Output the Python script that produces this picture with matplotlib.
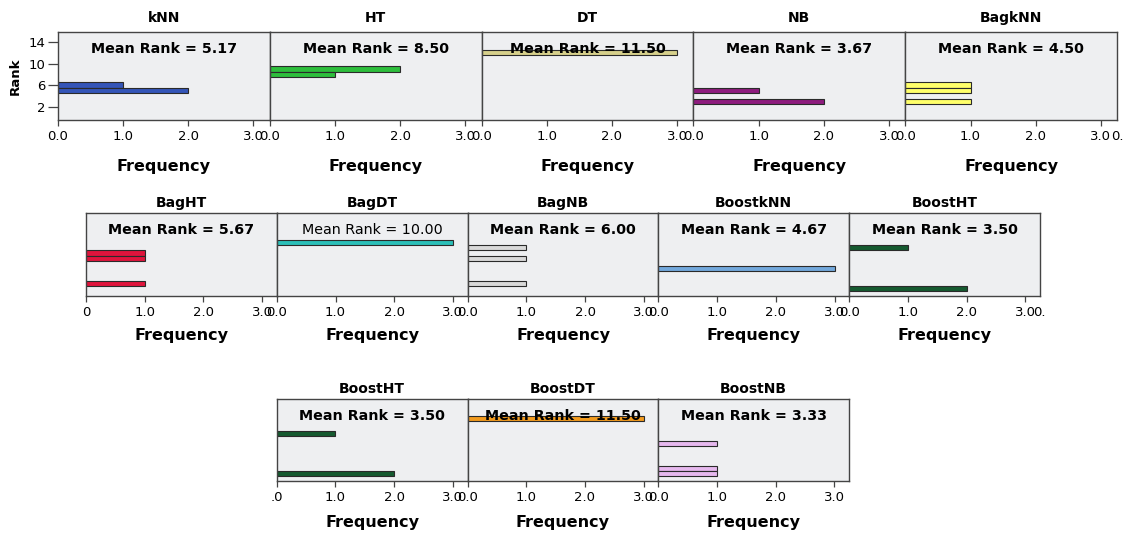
import matplotlib.pyplot as plt

# frequency of each rank per model (bars sit at integer ranks)
panel_names = ["kNN", "HT", "DT", "NB", "BagkNN",
               "BagHT", "BagDT", "BagNB", "BoostkNN", "BoostHT",
               "BoostHT", "BoostDT", "BoostNB"]
bar_ranks = [[6, 5], [9, 8], [12], [5, 3], [6, 5, 3],
             [8, 7, 2], [10], [9, 7, 2], [5], [9, 1],
             [9, 1], [12], [7, 2, 1]]
bar_freqs = [[1, 2], [2, 1], [3], [1, 2], [1, 1, 1],
             [1, 1, 1], [3], [1, 1, 1], [3], [1, 2],
             [1, 2], [3], [1, 1, 1]]
mean_ranks = ["5.17", "8.50", "11.50", "3.67", "4.50",
              "5.67", "10.00", "6.00", "4.67", "3.50",
              "3.50", "11.50", "3.33"]
bar_colors = ["#3455b8", "#2dbe3c", "#d6d08b", "#8e1c7e", "#ffff6a",
              "#e0143c", "#2abfb8", "#d9d9d9", "#72a8dc", "#155a30",
              "#155a30", "#f29b1e", "#e6b8ee"]
freq_ticks = [0, 1, 2, 3]
freq_labels = ["0.0", "1.0", "2.0", "3.0"]
rank_ticks = [2, 6, 10, 14]

W, H = 1124, 537
fig = plt.figure(figsize=(W / 100, H / 100), dpi=100)

# rows: (first panel index, left px, panel width px, top px, bottom px, count, xlabel pad)
rows = [(0, 57.7, 211.9, 32, 120, 5, 12),
        (5, 86.0, 190.8, 213, 296, 5, 7),
        (10, 276.7, 190.8, 399, 481, 3, 8)]

for start, left, width, top, bottom, n, lpad in rows:
    for j in range(n):
        i = start + j
        x0 = left + j * width
        ax = fig.add_axes([x0 / W, 1 - bottom / H, width / W, (bottom - top) / H])
        ax.set_facecolor("#eeeff1")
        ax.barh(bar_ranks[i], bar_freqs[i], height=1.0, color=bar_colors[i],
                edgecolor="#2a2a2a", linewidth=0.8, zorder=2)
        ax.set_xlim(0, 3.25)
        ax.set_ylim(-0.45, 15.85)
        for s in ax.spines.values():
            s.set_color("#444444")
            s.set_linewidth(1.0)

        labels = list(freq_labels)
        if i == 5:
            labels[0] = "0"
        if i == 10:
            labels[0] = ".0"
        ax.set_xticks(freq_ticks)
        ax.set_xticklabels(labels)
        ax.tick_params(axis="x", direction="out", length=4, width=0.9,
                       color="#444444", labelsize=9.5, pad=3)
        ax.set_xlabel("Frequency", fontsize=11.5, fontweight="bold", labelpad=lpad)

        if i == 0:
            ax.set_yticks(rank_ticks)
            ax.tick_params(axis="y", direction="out", length=7, width=0.9,
                           color="#444444", labelsize=9.5, pad=1.5)
            ax.set_ylabel("Rank", fontsize=9.5, fontweight="bold", labelpad=5)
        else:
            ax.set_yticks([])

        pad = 7 if start == 0 else 4.5
        ax.set_title(panel_names[i], fontsize=10, fontweight="bold", pad=pad)
        weight = "normal" if panel_names[i] == "BagDT" else "bold"
        ax.annotate("Mean Rank = " + mean_ranks[i], xy=(0.5, 1), xycoords="axes fraction",
                    xytext=(0, -17), textcoords="offset pixels", ha="center", va="center",
                    fontsize=10.3, fontweight=weight, zorder=5)

# cut-off first labels of the neighbouring panels
fig.text(1117 / W, 1 - 137 / H, "0.", fontsize=9.5, ha="center", va="center")
fig.text(1039 / W, 1 - 312 / H, "0.", fontsize=9.5, ha="center", va="center")

fig.savefig("out.png", dpi=100, facecolor="white")
